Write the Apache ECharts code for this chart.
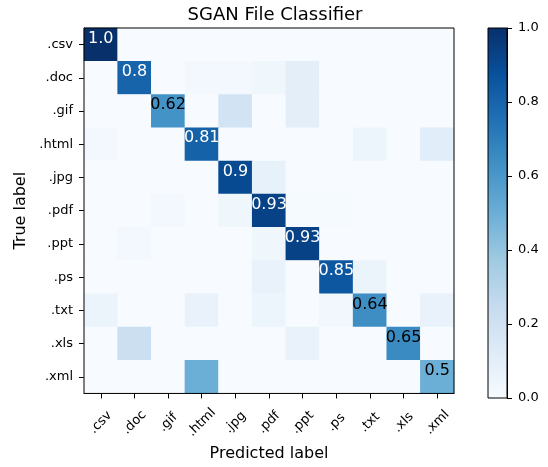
<!DOCTYPE html>
<html><head><meta charset="utf-8">
<script src="https://cdn.jsdelivr.net/npm/echarts@6/dist/echarts.min.js"></script>
<style>html,body{margin:0;padding:0;background:#fff}#c{width:548px;height:467px}</style>
</head><body><div id="c"></div>
<script>
const categories = ['.csv', '.doc', '.gif', '.html', '.jpg', '.pdf', '.ppt', '.ps', '.txt', '.xls', '.xml'];
const row_csv  = [1.0, 0, 0, 0, 0, 0, 0, 0, 0, 0, 0];
const row_doc  = [0, 0.8, 0, 0.02, 0.02, 0.04, 0.1, 0, 0, 0, 0];
const row_gif  = [0, 0, 0.62, 0, 0.19, 0, 0.1, 0, 0, 0, 0];
const row_html = [0.02, 0, 0, 0.81, 0, 0, 0, 0, 0.05, 0, 0.11];
const row_jpg  = [0, 0, 0, 0, 0.9, 0.08, 0, 0, 0, 0, 0];
const row_pdf  = [0, 0, 0.02, 0, 0.04, 0.93, 0.01, 0.01, 0, 0, 0];
const row_ppt  = [0, 0.02, 0, 0, 0, 0.04, 0.93, 0, 0, 0, 0];
const row_ps   = [0, 0, 0, 0, 0, 0.07, 0, 0.85, 0.06, 0, 0];
const row_txt  = [0.06, 0, 0, 0.07, 0, 0.05, 0, 0.03, 0.64, 0, 0.07];
const row_xls  = [0, 0.22, 0, 0, 0, 0, 0.07, 0, 0, 0.65, 0];
const row_xml  = [0, 0, 0, 0.5, 0, 0, 0, 0, 0, 0, 0.5];
const matrix = [row_csv, row_doc, row_gif, row_html, row_jpg, row_pdf, row_ppt, row_ps, row_txt, row_xls, row_xml];
const colorbarTicks = [0.0, 0.2, 0.4, 0.6, 0.8, 1.0];

const blues = ['#f7fbff','#deebf7','#c6dbef','#9ecae1','#6baed6','#4292c6','#2171b5','#08519c','#08306b'];
const FONT = 'DejaVu Sans';

const data = [];
matrix.forEach((row, i) => row.forEach((v, j) => {
  const item = {value: [j, i, v]};
  if (i === j) {
    item.label = {show: true, color: v > 0.75 ? '#fff' : '#000'};
  }
  data.push(item);
}));

const chart = echarts.init(document.getElementById('c'), null, {renderer: 'canvas'});
const gradStops = blues.map((c, k) => ({offset: 1 - k / (blues.length - 1), color: c}));
chart.setOption({
  animation: false,
  textStyle: {fontFamily: FONT},
  title: {text: 'SGAN File Classifier', left: 270, top: 1, textAlign: 'center',
    textStyle: {fontFamily: FONT, fontSize: 18, fontWeight: 'normal', color: '#000'}},
  grid: [
    {left: 84, top: 28, width: 370, height: 370, show: true, z: 10, backgroundColor: 'transparent', borderColor: '#000', borderWidth: 1},
    {left: 488, top: 28, width: 19, height: 370, show: true, z: 10, backgroundColor: 'transparent', borderColor: '#000', borderWidth: 1}
  ],
  xAxis: [
    {type: 'category', data: categories, gridIndex: 0, name: 'Predicted label', nameLocation: 'middle', nameGap: 50,
      nameTextStyle: {fontFamily: FONT, fontSize: 16, color: '#000'},
      axisLine: {show: true, lineStyle: {color: '#000'}}, splitArea: {show: false},
      axisTick: {show: true, alignWithLabel: true, length: 5, lineStyle: {color: '#000'}},
      axisLabel: {rotate: 45, align: 'center', verticalAlign: 'middle', fontFamily: FONT, fontSize: 13, color: '#000', margin: 29}},
    {type: 'category', data: [''], gridIndex: 1, show: false, boundaryGap: true}
  ],
  yAxis: [
    {type: 'category', data: categories, gridIndex: 0, inverse: true, name: 'True label', nameLocation: 'middle', nameGap: 53,
      nameTextStyle: {fontFamily: FONT, fontSize: 16, color: '#000'},
      axisLine: {show: true, lineStyle: {color: '#000'}}, splitArea: {show: false},
      axisTick: {show: true, alignWithLabel: true, length: 5, lineStyle: {color: '#000'}},
      axisLabel: {fontFamily: FONT, fontSize: 13, color: '#000', margin: 11}},
    {type: 'value', gridIndex: 1, min: 0, max: 1, interval: 0.2, position: 'right',
      axisLine: {show: true, lineStyle: {color: '#000'}}, splitLine: {show: false},
      axisTick: {show: true, length: 5, lineStyle: {color: '#000'}},
      axisLabel: {fontFamily: FONT, fontSize: 13, color: '#000', margin: 11,
        formatter: v => colorbarTicks.find(t => Math.abs(t - v) < 1e-6).toFixed(1)}}
  ],
  visualMap: {show: false, min: 0, max: 1, seriesIndex: 0, dimension: 2, inRange: {color: blues}},
  series: [
    {type: 'heatmap', xAxisIndex: 0, yAxisIndex: 0, data: data,
      itemStyle: {borderWidth: 0},
      label: {show: false, fontFamily: FONT, fontSize: 16, offset: [0, -6],
        formatter: p => { const v = p.value[2]; return v === 1 ? '1.0' : String(v); }},
      emphasis: {disabled: true}},
    {type: 'bar', xAxisIndex: 1, yAxisIndex: 1, data: [1], barWidth: '100%', silent: true,
      itemStyle: {color: new echarts.graphic.LinearGradient(0, 0, 0, 1, gradStops)}}
  ]
});
</script></body></html>
